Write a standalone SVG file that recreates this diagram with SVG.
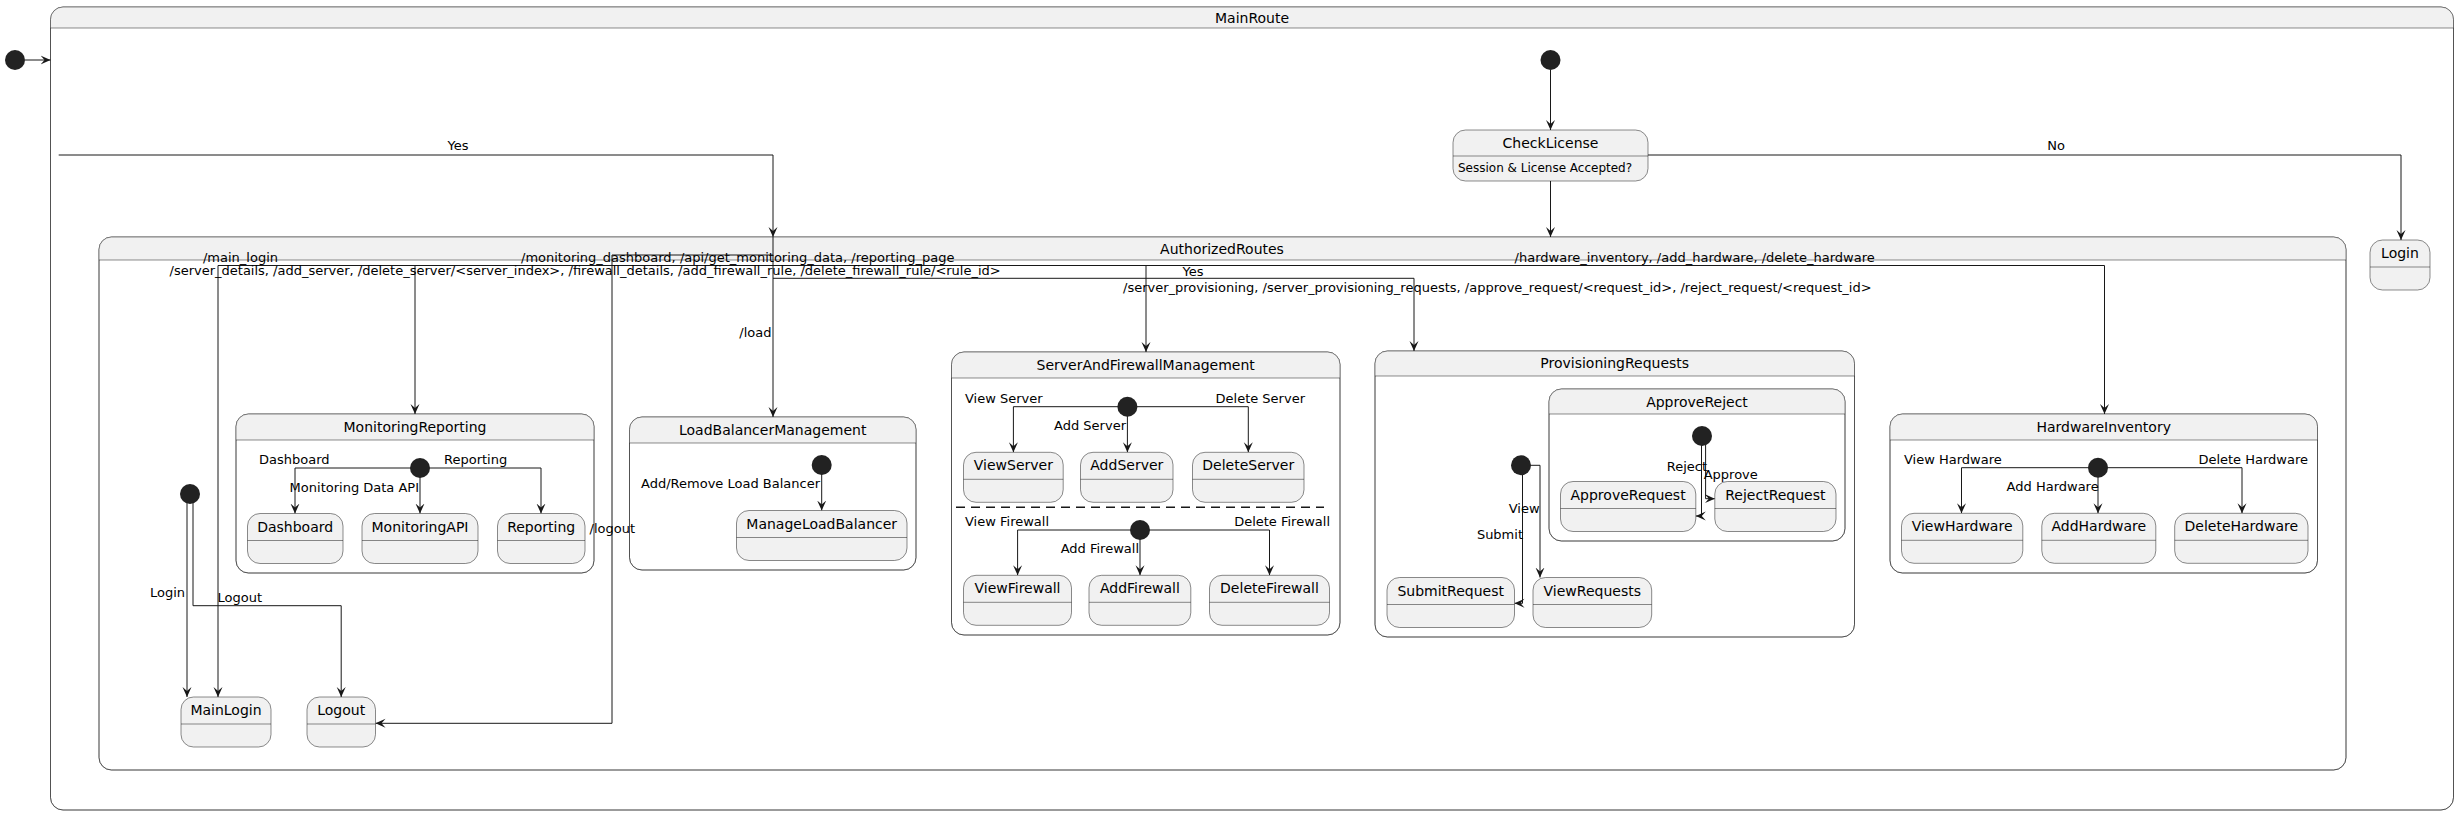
<svg xmlns="http://www.w3.org/2000/svg" width="2455" height="816" viewBox="0 0 2455 816">
<style>
text{font-family:"DejaVu Sans","Liberation Sans",sans-serif;fill:#000000}
.t14{font-size:14px;text-anchor:middle}
.l13{font-size:13px}
.end{text-anchor:end}
.mid{text-anchor:middle}
.b12{font-size:12px}
.st{fill:#F1F1F1;stroke:#181818;stroke-width:0.5}
.cb{fill:#FFFFFF;stroke:#181818;stroke-width:0.5}
.hd{fill:#F1F1F1;stroke:none}
.sep{stroke:#181818;stroke-width:0.5;fill:none}
.e{fill:none;stroke:#181818;stroke-width:1;marker-end:url(#ah)}
.ini{fill:#222222;stroke:none}
.dash{stroke:#181818;stroke-width:1.5;stroke-dasharray:9,6;fill:none}
</style>
<defs>
<marker id="ah" markerWidth="12" markerHeight="12" refX="10" refY="5" orient="auto" markerUnits="userSpaceOnUse">
<path d="M0,0.5 L10,5 L0,9.5 L4,5 Z" fill="#181818"/>
</marker>
</defs>
<rect width="2455" height="816" fill="#FFFFFF"/>

<!-- composite states -->
<g id="MainRoute">
<rect class="cb" x="50.5" y="7" width="2403" height="803" rx="12.5"/>
<path class="hd" d="M50.5,28 V19.5 A12.5,12.5 0 0 1 63,7 H2441 A12.5,12.5 0 0 1 2453.5,19.5 V28 Z"/>
<rect fill="none" stroke="#181818" stroke-width="0.5" x="50.5" y="7" width="2403" height="803" rx="12.5"/>
<line class="sep" x1="50.5" y1="28" x2="2453.5" y2="28"/>
<text class="t14" x="1252" y="23">MainRoute</text>
</g>
<g id="AuthorizedRoutes">
<rect class="cb" x="99" y="237" width="2247" height="533" rx="12.5"/>
<path class="hd" d="M99,260 V249.5 A12.5,12.5 0 0 1 111.5,237 H2333.5 A12.5,12.5 0 0 1 2346,249.5 V260 Z"/>
<rect fill="none" stroke="#181818" stroke-width="0.5" x="99" y="237" width="2247" height="533" rx="12.5"/>
<line class="sep" x1="99" y1="260" x2="2346" y2="260"/>
<text class="t14" x="1222" y="254">AuthorizedRoutes</text>
</g>
<g id="MonitoringReporting">
<rect class="cb" x="236" y="414" width="358" height="159" rx="12.5"/>
<path class="hd" d="M236,440 V426.5 A12.5,12.5 0 0 1 248.5,414 H581.5 A12.5,12.5 0 0 1 594,426.5 V440 Z"/>
<rect fill="none" stroke="#181818" stroke-width="0.5" x="236" y="414" width="358" height="159" rx="12.5"/>
<line class="sep" x1="236" y1="440" x2="594" y2="440"/>
<text class="t14" x="415" y="432">MonitoringReporting</text>
</g>
<g id="LoadBalancerManagement">
<rect class="cb" x="629.5" y="417" width="286.5" height="153" rx="12.5"/>
<path class="hd" d="M629.5,443 V429.5 A12.5,12.5 0 0 1 642,417 H903.5 A12.5,12.5 0 0 1 916,429.5 V443 Z"/>
<rect fill="none" stroke="#181818" stroke-width="0.5" x="629.5" y="417" width="286.5" height="153" rx="12.5"/>
<line class="sep" x1="629.5" y1="443" x2="916" y2="443"/>
<text class="t14" x="772.7" y="435">LoadBalancerManagement</text>
</g>
<g id="ServerAndFirewallManagement">
<rect class="cb" x="951.5" y="352" width="388.5" height="283" rx="12.5"/>
<path class="hd" d="M951.5,378 V364.5 A12.5,12.5 0 0 1 964,352 H1327.5 A12.5,12.5 0 0 1 1340,364.5 V378 Z"/>
<rect fill="none" stroke="#181818" stroke-width="0.5" x="951.5" y="352" width="388.5" height="283" rx="12.5"/>
<line class="sep" x1="951.5" y1="378" x2="1340" y2="378"/>
<text class="t14" x="1145.7" y="370">ServerAndFirewallManagement</text>
<line class="dash" x1="956" y1="507.3" x2="1324" y2="507.3"/>
</g>
<g id="ProvisioningRequests">
<rect class="cb" x="1375" y="351" width="479.5" height="286" rx="12.5"/>
<path class="hd" d="M1375,376 V363.5 A12.5,12.5 0 0 1 1387.5,351 H1842 A12.5,12.5 0 0 1 1854.5,363.5 V376 Z"/>
<rect fill="none" stroke="#181818" stroke-width="0.5" x="1375" y="351" width="479.5" height="286" rx="12.5"/>
<line class="sep" x1="1375" y1="376" x2="1854.5" y2="376"/>
<text class="t14" x="1614.7" y="368">ProvisioningRequests</text>
</g>
<g id="ApproveReject">
<rect class="cb" x="1549" y="389" width="296" height="152" rx="12.5"/>
<path class="hd" d="M1549,414 V401.5 A12.5,12.5 0 0 1 1561.5,389 H1832.5 A12.5,12.5 0 0 1 1845,401.5 V414 Z"/>
<rect fill="none" stroke="#181818" stroke-width="0.5" x="1549" y="389" width="296" height="152" rx="12.5"/>
<line class="sep" x1="1549" y1="414" x2="1845" y2="414"/>
<text class="t14" x="1697" y="407">ApproveReject</text>
</g>
<g id="HardwareInventory">
<rect class="cb" x="1890" y="414" width="427.5" height="159" rx="12.5"/>
<path class="hd" d="M1890,440 V426.5 A12.5,12.5 0 0 1 1902.5,414 H2305 A12.5,12.5 0 0 1 2317.5,426.5 V440 Z"/>
<rect fill="none" stroke="#181818" stroke-width="0.5" x="1890" y="414" width="427.5" height="159" rx="12.5"/>
<line class="sep" x1="1890" y1="440" x2="2317.5" y2="440"/>
<text class="t14" x="2103.7" y="432">HardwareInventory</text>
</g>

<!-- connectors -->
<g id="connectors">
<path class="e" d="M25,60 H50.5"/>
<path class="e" d="M58.7,155 H773 V237"/>
<text class="l13 mid" x="458" y="150">Yes</text>
<path class="e" d="M1550.5,70 V130"/>
<path class="e" d="M1550.5,181 V237"/>
<path class="e" d="M1648,155 H2401 V240"/>
<text class="l13 mid" x="2056" y="150">No</text>

<path class="e" d="M773,265.5 H218 V697"/>
<path class="e" d="M773,265.5 H415 V414"/>
<path class="e" d="M773,265.5 H2104.5 V414"/>
<path class="e" d="M1146,265.5 V352"/>
<path class="e" d="M773,237 V417"/>
<path class="e" d="M773,255 H612 V723.3 H375.5"/>
<path class="e" d="M773,278.3 H1414 V351"/>
<text class="l13 mid" x="240.5" y="262">/main_login</text>
<text class="l13" x="521" y="262">/monitoring_dashboard, /api/get_monitoring_data, /reporting_page</text>
<text class="l13" x="169.5" y="275">/server_details, /add_server, /delete_server/&lt;server_index&gt;, /firewall_details, /add_firewall_rule, /delete_firewall_rule/&lt;rule_id&gt;</text>
<text class="l13 mid" x="1193" y="276">Yes</text>
<text class="l13" x="1123" y="291.5">/server_provisioning, /server_provisioning_requests, /approve_request/&lt;request_id&gt;, /reject_request/&lt;request_id&gt;</text>
<text class="l13" x="1514.6" y="262">/hardware_inventory, /add_hardware, /delete_hardware</text>
<text class="l13 end" x="771.5" y="337">/load</text>
<text class="l13" x="589.6" y="533">/logout</text>

<path class="e" d="M420,468 H295 V513.5"/>
<path class="e" d="M420,468 V513.5"/>
<path class="e" d="M420,468 H541 V513.5"/>
<text class="l13" x="259" y="464">Dashboard</text>
<text class="l13 end" x="419" y="491.5">Monitoring Data API</text>
<text class="l13" x="444" y="464">Reporting</text>

<path class="e" d="M187,494 V697"/>
<path class="e" d="M193,494 V605.7 H341.2 V697"/>
<text class="l13 end" x="185" y="596.7">Login</text>
<text class="l13" x="217.5" y="601.7">Logout</text>

<path class="e" d="M821.7,465 V510.5"/>
<text class="l13 end" x="820" y="488">Add/Remove Load Balancer</text>

<path class="e" d="M1127.4,406.7 H1013.4 V452.3"/>
<path class="e" d="M1127.4,406.7 V452.3"/>
<path class="e" d="M1127.4,406.7 H1248.3 V452.3"/>
<text class="l13" x="965" y="402.7">View Server</text>
<text class="l13 end" x="1126" y="430">Add Server</text>
<text class="l13 end" x="1305" y="402.7">Delete Server</text>

<path class="e" d="M1140,530 H1017.6 V575.3"/>
<path class="e" d="M1140,530 V575.3"/>
<path class="e" d="M1140,530 H1269.5 V575.3"/>
<text class="l13" x="965" y="526">View Firewall</text>
<text class="l13 end" x="1139" y="553.3">Add Firewall</text>
<text class="l13 end" x="1330" y="526">Delete Firewall</text>

<path class="e" d="M1521,465.3 H1540 V577.5"/>
<path class="e" d="M1522.5,465.3 V603.3 H1514.5"/>
<text class="l13 end" x="1539.6" y="512.7">View</text>
<text class="l13 end" x="1523" y="539.3">Submit</text>

<path class="e" d="M1705.6,436 V498.7 H1714.8"/>
<path class="e" d="M1701.5,436 V516 H1695.8"/>
<text class="l13 end" x="1707" y="471">Reject</text>
<text class="l13" x="1703.7" y="479.3">Approve</text>

<path class="e" d="M2098,467.7 H1961.5 V513.3"/>
<path class="e" d="M2098,467.7 V513.3"/>
<path class="e" d="M2098,467.7 H2242 V513.3"/>
<text class="l13" x="1904" y="464">View Hardware</text>
<text class="l13 end" x="2098.7" y="490.7">Add Hardware</text>
<text class="l13 end" x="2308" y="464">Delete Hardware</text>
</g>

<!-- initial pseudo-states -->
<g id="start_top"><circle class="ini" cx="15" cy="60" r="10"/></g>
<g id="start_main"><circle class="ini" cx="1550.5" cy="60" r="10"/></g>
<g id="start_auth"><circle class="ini" cx="190" cy="494" r="10"/></g>
<g id="start_monitoring"><circle class="ini" cx="420" cy="468" r="10"/></g>
<g id="start_lb"><circle class="ini" cx="821.7" cy="465" r="10"/></g>
<g id="start_server"><circle class="ini" cx="1127.4" cy="406.7" r="10"/></g>
<g id="start_firewall"><circle class="ini" cx="1140" cy="530" r="10"/></g>
<g id="start_provisioning"><circle class="ini" cx="1521" cy="465.3" r="10"/></g>
<g id="start_approve"><circle class="ini" cx="1702" cy="436" r="10"/></g>
<g id="start_hardware"><circle class="ini" cx="2098" cy="467.7" r="10"/></g>

<!-- leaf states -->
<g id="CheckLicense">
<rect class="st" x="1453" y="130" width="195" height="51" rx="12.5"/>
<line class="sep" x1="1453" y1="156" x2="1648" y2="156"/>
<text class="t14" x="1550.5" y="148">CheckLicense</text>
<text class="b12" x="1458" y="172">Session &amp; License Accepted?</text>
</g>
<g id="Login">
<rect class="st" x="2370" y="240" width="60" height="50" rx="12.5"/>
<line class="sep" x1="2370" y1="267" x2="2430" y2="267"/>
<text class="t14" x="2400" y="258">Login</text>
</g>
<g id="MainLogin">
<rect class="st" x="181" y="697" width="90" height="50" rx="12.5"/>
<line class="sep" x1="181" y1="724" x2="271" y2="724"/>
<text class="t14" x="226" y="715">MainLogin</text>
</g>
<g id="Logout">
<rect class="st" x="307" y="697" width="68.5" height="50" rx="12.5"/>
<line class="sep" x1="307" y1="724" x2="375.5" y2="724"/>
<text class="t14" x="341.2" y="715">Logout</text>
</g>
<g id="Dashboard">
<rect class="st" x="247.5" y="513.5" width="95.5" height="50" rx="12.5"/>
<line class="sep" x1="247.5" y1="540.5" x2="343" y2="540.5"/>
<text class="t14" x="295.2" y="531.5">Dashboard</text>
</g>
<g id="MonitoringAPI">
<rect class="st" x="362" y="513.5" width="116" height="50" rx="12.5"/>
<line class="sep" x1="362" y1="540.5" x2="478" y2="540.5"/>
<text class="t14" x="420" y="531.5">MonitoringAPI</text>
</g>
<g id="Reporting">
<rect class="st" x="497.5" y="513.5" width="87.5" height="50" rx="12.5"/>
<line class="sep" x1="497.5" y1="540.5" x2="585" y2="540.5"/>
<text class="t14" x="541.2" y="531.5">Reporting</text>
</g>
<g id="ManageLoadBalancer">
<rect class="st" x="736.5" y="510.5" width="170.5" height="50" rx="12.5"/>
<line class="sep" x1="736.5" y1="537.5" x2="907" y2="537.5"/>
<text class="t14" x="821.7" y="528.5">ManageLoadBalancer</text>
</g>
<g id="ViewServer">
<rect class="st" x="963.5" y="452.3" width="99.7" height="50" rx="12.5"/>
<line class="sep" x1="963.5" y1="479.3" x2="1063.2" y2="479.3"/>
<text class="t14" x="1013.4" y="470.3">ViewServer</text>
</g>
<g id="AddServer">
<rect class="st" x="1080.5" y="452.3" width="92.5" height="50" rx="12.5"/>
<line class="sep" x1="1080.5" y1="479.3" x2="1173" y2="479.3"/>
<text class="t14" x="1126.8" y="470.3">AddServer</text>
</g>
<g id="DeleteServer">
<rect class="st" x="1192.5" y="452.3" width="111.5" height="50" rx="12.5"/>
<line class="sep" x1="1192.5" y1="479.3" x2="1304" y2="479.3"/>
<text class="t14" x="1248.3" y="470.3">DeleteServer</text>
</g>
<g id="ViewFirewall">
<rect class="st" x="963.5" y="575.3" width="108" height="50" rx="12.5"/>
<line class="sep" x1="963.5" y1="602.3" x2="1071.5" y2="602.3"/>
<text class="t14" x="1017.5" y="593.3">ViewFirewall</text>
</g>
<g id="AddFirewall">
<rect class="st" x="1089" y="575.3" width="101.8" height="50" rx="12.5"/>
<line class="sep" x1="1089" y1="602.3" x2="1190.8" y2="602.3"/>
<text class="t14" x="1139.9" y="593.3">AddFirewall</text>
</g>
<g id="DeleteFirewall">
<rect class="st" x="1209.5" y="575.3" width="120" height="50" rx="12.5"/>
<line class="sep" x1="1209.5" y1="602.3" x2="1329.5" y2="602.3"/>
<text class="t14" x="1269.5" y="593.3">DeleteFirewall</text>
</g>
<g id="ApproveRequest">
<rect class="st" x="1560.5" y="481.5" width="135.3" height="50" rx="12.5"/>
<line class="sep" x1="1560.5" y1="508.5" x2="1695.8" y2="508.5"/>
<text class="t14" x="1628.1" y="499.5">ApproveRequest</text>
</g>
<g id="RejectRequest">
<rect class="st" x="1714.8" y="481.5" width="121.2" height="50" rx="12.5"/>
<line class="sep" x1="1714.8" y1="508.5" x2="1836" y2="508.5"/>
<text class="t14" x="1775.4" y="499.5">RejectRequest</text>
</g>
<g id="SubmitRequest">
<rect class="st" x="1387" y="577.5" width="127.5" height="50" rx="12.5"/>
<line class="sep" x1="1387" y1="604.5" x2="1514.5" y2="604.5"/>
<text class="t14" x="1450.7" y="595.5">SubmitRequest</text>
</g>
<g id="ViewRequests">
<rect class="st" x="1533" y="577.5" width="118.7" height="50" rx="12.5"/>
<line class="sep" x1="1533" y1="604.5" x2="1651.7" y2="604.5"/>
<text class="t14" x="1592.3" y="595.5">ViewRequests</text>
</g>
<g id="ViewHardware">
<rect class="st" x="1901.5" y="513.3" width="121.3" height="50" rx="12.5"/>
<line class="sep" x1="1901.5" y1="540.3" x2="2022.8" y2="540.3"/>
<text class="t14" x="1962.1" y="531.3">ViewHardware</text>
</g>
<g id="AddHardware">
<rect class="st" x="2041.8" y="513.3" width="114" height="50" rx="12.5"/>
<line class="sep" x1="2041.8" y1="540.3" x2="2155.8" y2="540.3"/>
<text class="t14" x="2098.8" y="531.3">AddHardware</text>
</g>
<g id="DeleteHardware">
<rect class="st" x="2174.7" y="513.3" width="133.3" height="50" rx="12.5"/>
<line class="sep" x1="2174.7" y1="540.3" x2="2308" y2="540.3"/>
<text class="t14" x="2241.3" y="531.3">DeleteHardware</text>
</g>
</svg>
